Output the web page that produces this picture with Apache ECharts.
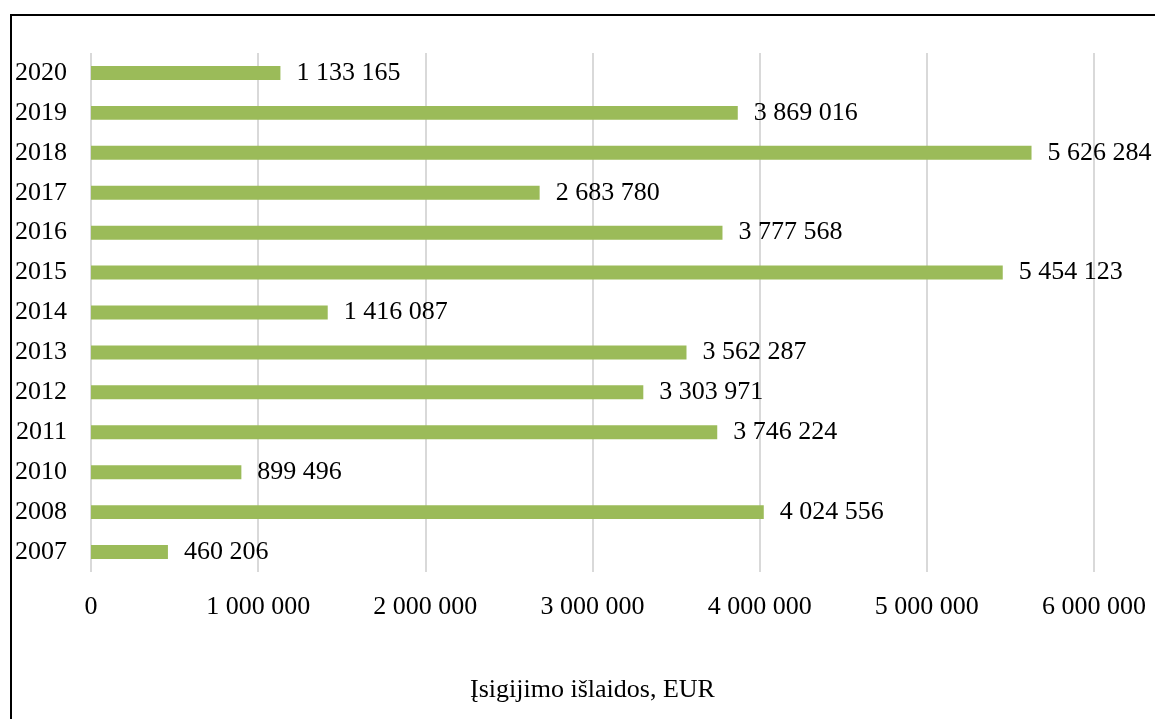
<!DOCTYPE html>
<html><head><meta charset="utf-8">
<script src="https://cdn.jsdelivr.net/npm/echarts@6/dist/echarts.min.js"></script>
<style>html,body{margin:0;padding:0;background:#fff}#c{width:1155px;height:719px}</style>
</head><body><div id="c"></div>
<script>
const categories = ['2007','2008','2010','2011','2012','2013','2014','2015','2016','2017','2018','2019','2020'];
const values = [460206, 4024556, 899496, 3746224, 3303971, 3562287, 1416087, 5454123, 3777568, 2683780, 5626284, 3869016, 1133165];
const axisName = 'Įsigijimo išlaidos, EUR';

function fmt(v){ return String(Math.round(v)).replace(/\B(?=(\d{3})+(?!\d))/g, ' '); }
const FONT = '"Liberation Serif","Times New Roman",serif';
const chart = echarts.init(document.getElementById('c'), null, {renderer:'canvas'});
chart.setOption({
  animation:false,
  graphic:[{type:'rect', shape:{x:11, y:15, width:1200, height:800}, style:{fill:'none', stroke:'#000', lineWidth:2}}],
  grid:{left:91, right:61, top:53, bottom:147, containLabel:false},
  xAxis:{type:'value', min:0, max:6000000, interval:1000000,
    name:axisName, nameLocation:'middle', nameGap:105,
    nameTextStyle:{fontFamily:FONT, fontSize:26, color:'#000'},
    axisLine:{show:false}, axisTick:{show:false},
    axisLabel:{formatter:fmt, fontFamily:FONT, fontSize:26, color:'#000', margin:22},
    splitLine:{show:true, lineStyle:{color:'#d9d9d9', width:2}}},
  yAxis:{type:'category', data:categories,
    axisLine:{show:false}, axisTick:{show:false},
    axisLabel:{fontFamily:FONT, fontSize:26, color:'#000', margin:24}},
  series:[{type:'bar', data:values, barWidth:'35%',
    itemStyle:{color:'#9bbb59'},
    label:{show:true, position:'right', distance:16, formatter:p=>fmt(p.value),
      fontFamily:FONT, fontSize:26, color:'#000'}}]
});
</script></body></html>
